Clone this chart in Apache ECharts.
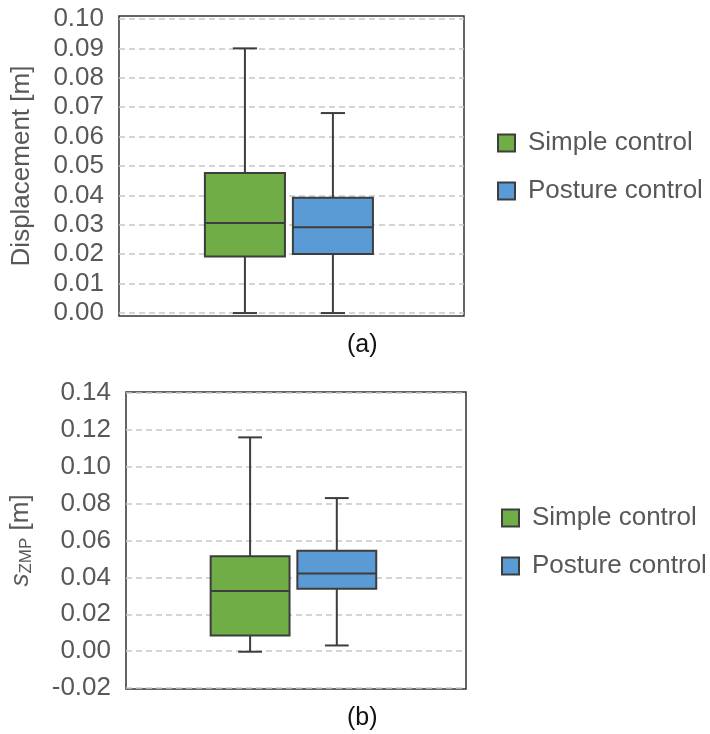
<!DOCTYPE html>
<html><head><meta charset="utf-8">
<script src="https://cdn.jsdelivr.net/npm/echarts@6/dist/echarts.min.js"></script>
<style>html,body{margin:0;padding:0;background:#fff}#c{width:710px;height:734px}</style>
</head><body><div id="c"></div>
<script>
// ---- data ----
const categories = [''];
const seriesNames = ['Simple control', 'Posture control'];
// [min, q1, median, q3, max]
const dispSimple  = [0.000, 0.0192, 0.0306, 0.0476, 0.0900];
const dispPosture = [0.000, 0.0201, 0.0292, 0.0392, 0.0680];
const zmpSimple   = [-0.0003, 0.0085, 0.0326, 0.0515, 0.1159];
const zmpPosture  = [0.0031, 0.0338, 0.0421, 0.0544, 0.0830];
const dispTicks = [0.00, 0.01, 0.02, 0.03, 0.04, 0.05, 0.06, 0.07, 0.08, 0.09, 0.10];
const zmpTicks  = [-0.02, 0.00, 0.02, 0.04, 0.06, 0.08, 0.10, 0.12, 0.14];
const panelLabels = ['(a)', '(b)'];

// ---- styles ----
const GREEN = '#70AD47', BLUE = '#5B9BD5', EDGE = '#3d3d3d', TXT = '#585858';
const FONT = '"Liberation Sans", Arial, sans-serif';
const offsets = [-0.135, 0.12];   // fraction of band width from category center
const boxFrac = 0.232, capFrac = 0.07;

function renderBox(offset) {
  return function (params, api) {
    const cat = api.value(0);
    const band = api.size([1, 0])[0];
    const cx = api.coord([cat, 0])[0] + offset * band;
    const y = i => api.coord([cat, api.value(i)])[1];
    const yMin = y(1), yQ1 = y(2), yMed = y(3), yQ3 = y(4), yMax = y(5);
    const hw = boxFrac * band / 2, cw = capFrac * band / 2;
    const ls = { stroke: EDGE, lineWidth: 2 };
    return {
      type: 'group',
      children: [
        { type: 'line', shape: { x1: cx, y1: yQ3, x2: cx, y2: yMax }, style: ls },
        { type: 'line', shape: { x1: cx, y1: yQ1, x2: cx, y2: yMin }, style: ls },
        { type: 'line', shape: { x1: cx - cw, y1: yMax, x2: cx + cw, y2: yMax }, style: ls },
        { type: 'line', shape: { x1: cx - cw, y1: yMin, x2: cx + cw, y2: yMin }, style: ls },
        { type: 'rect', shape: { x: cx - hw, y: yQ3, width: 2 * hw, height: yQ1 - yQ3 },
          style: { fill: api.visual('color'), stroke: EDGE, lineWidth: 2 } },
        { type: 'line', shape: { x1: cx - hw, y1: yMed, x2: cx + hw, y2: yMed }, style: ls }
      ]
    };
  };
}

function yAxisCfg(gridIndex, min, max, ticks, name, nameGap) {
  return {
    type: 'value', gridIndex, min, max,
    axisLabel: { customValues: ticks, formatter: v => v.toFixed(2), color: TXT, fontSize: 26, fontFamily: FONT, margin: 15 },
    axisTick: { show: false, customValues: ticks },
    splitLine: { show: true, customValues: ticks, lineStyle: { color: '#c8c8c8', type: [6, 4], width: 1.5 } },
    axisLine: { show: false },
    name, nameLocation: 'middle', nameGap,
    nameTextStyle: { color: TXT, fontSize: 26, fontFamily: FONT,
      rich: {
        s: { fontStyle: 'italic', fontSize: 26, color: TXT, fontFamily: FONT },
        sub: { fontSize: 17, color: TXT, fontFamily: FONT, padding: [12, 0, 0, 0] },
        n: { fontSize: 26, color: TXT, fontFamily: FONT }
      } }
  };
}

function legendCfg(left, top) {
  return {
    orient: 'vertical', left, top, icon: 'rect', itemWidth: 17, itemHeight: 17, itemGap: 20,
    textStyle: { color: TXT, fontSize: 26, fontFamily: FONT, lineHeight: 28, padding: [0, 0, 0, 8] },
    data: seriesNames.map((n, i) => ({ name: n, itemStyle: { color: i ? BLUE : GREEN, borderColor: EDGE, borderWidth: 2 } }))
  };
}

const chart = echarts.init(document.getElementById('c'), null, { renderer: 'canvas' });
const panels = [[dispSimple, dispPosture], [zmpSimple, zmpPosture]];
const series = [];
panels.forEach((pair, g) => {
  pair.forEach((vals, s) => {
    series.push({
      type: 'custom', name: seriesNames[s], xAxisIndex: g, yAxisIndex: g,
      itemStyle: { color: s ? BLUE : GREEN },
      renderItem: renderBox(offsets[s]),
      encode: { x: 0, y: [1, 2, 3, 4, 5] },
      data: [[0].concat(vals)]
    });
  });
});

chart.setOption({
  animation: false,
  backgroundColor: '#fff',
  grid: [
    { left: 119, right: 246, top: 16, bottom: 418, show: true, borderColor: '#333', borderWidth: 1.5 },
    { left: 126, right: 244, top: 392, bottom: 45, show: true, borderColor: '#333', borderWidth: 1.5 }
  ],
  xAxis: [0, 1].map(g => ({ type: 'category', gridIndex: g, data: categories,
    axisLine: { show: false }, axisTick: { show: false }, axisLabel: { show: false }, splitLine: { show: false } })),
  yAxis: [
    yAxisCfg(0, -0.001, 0.101, dispTicks, 'Displacement [m]', 84),
    yAxisCfg(1, -0.0205, 0.1405, zmpTicks, '{s|s}{sub|ZMP}{n| [m]}', 91)
  ],
  legend: [legendCfg(492, 124), legendCfg(496, 499)],
  graphic: [
    { type: 'text', left: 347, top: 333, style: { text: panelLabels[0], fontSize: 25, fontFamily: FONT, fill: '#111' } },
    { type: 'text', left: 347, top: 706, style: { text: panelLabels[1], fontSize: 25, fontFamily: FONT, fill: '#111' } }
  ],
  series
});
</script></body></html>
